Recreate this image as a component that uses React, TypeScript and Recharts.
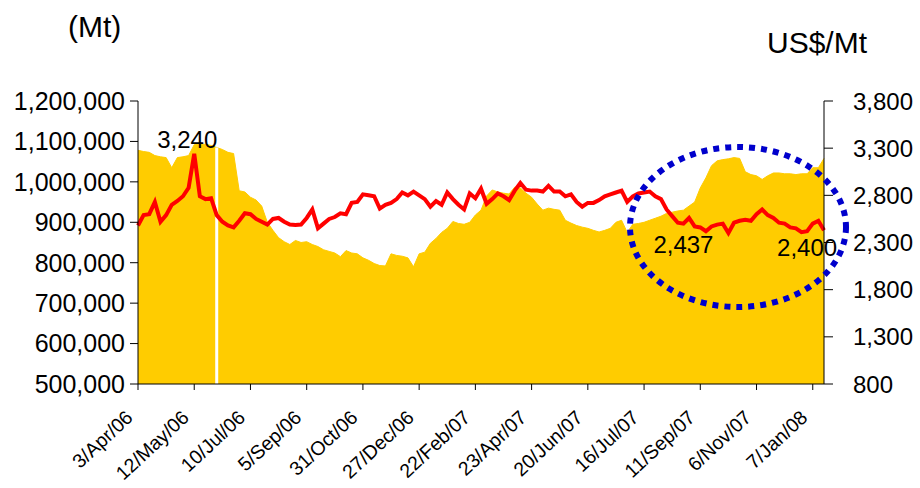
import React from 'react';
import { ComposedChart, Area, Line, XAxis, YAxis, ReferenceLine, ReferenceDot } from 'recharts';

// x tick labels, one every 10 samples
const tickLabels = ['3/Apr/06', '12/May/06', '10/Jul/06', '5/Sep/06', '31/Oct/06', '27/Dec/06', '22/Feb/07', '23/Apr/07', '20/Jun/07', '16/Jul/07', '11/Sep/07', '6/Nov/07', '7/Jan/08'];

// stock (Mt), left axis
const stock = [
  1078000, 1075000, 1073000, 1065000, 1062000, 1060000, 1035000, 1060000, 1062000, 1065000,
  1092000, 1093000, 1093000, 1090000, 1085000, 1080000, 1073000, 1070000, 978000, 975000,
  962000, 955000, 940000, 900000, 880000, 862000, 852000, 845000, 855000, 850000,
  852000, 845000, 840000, 832000, 828000, 824000, 815000, 830000, 824000, 822000,
  812000, 806000, 798000, 793000, 792000, 822000, 818000, 816000, 812000, 790000,
  822000, 826000, 848000, 860000, 875000, 885000, 902000, 897000, 895000, 900000,
  918000, 930000, 965000, 980000, 975000, 972000, 970000, 987000, 985000, 972000,
  962000, 945000, 930000, 935000, 932000, 930000, 905000, 898000, 892000, 888000,
  885000, 880000, 876000, 880000, 885000, 900000, 905000, 875000, 895000, 897000,
  900000, 905000, 910000, 915000, 922000, 925000, 928000, 930000, 940000, 950000,
  985000, 1010000, 1040000, 1052000, 1055000, 1057000, 1060000, 1058000, 1025000, 1018000,
  1015000, 1006000, 1015000, 1022000, 1022000, 1020000, 1020000, 1018000, 1020000, 1020000,
  1035000, 1035000, 1058000,
];

// price (US$/Mt), right axis
const price = [
  2480, 2590, 2600, 2730, 2520, 2590, 2700, 2740, 2790, 2880,
  3240, 2790, 2760, 2770, 2590, 2520, 2480, 2460, 2530, 2610,
  2600, 2550, 2520, 2490, 2550, 2560, 2520, 2490, 2485, 2490,
  2560, 2650, 2450, 2500, 2550, 2570, 2610, 2600, 2720, 2730,
  2810, 2800, 2790, 2660, 2700, 2720, 2760, 2830, 2800, 2840,
  2800, 2760, 2680, 2740, 2700, 2830, 2760, 2700, 2650, 2820,
  2770, 2870, 2710, 2760, 2820, 2790, 2750, 2850, 2930, 2860,
  2850, 2850, 2840, 2900, 2840, 2840, 2790, 2810, 2730, 2680,
  2720, 2720, 2750, 2790, 2810, 2830, 2850, 2730, 2790, 2820,
  2830, 2840, 2790, 2760, 2650, 2580, 2510, 2500, 2560, 2470,
  2460, 2420, 2470, 2490, 2500, 2400, 2510, 2530, 2540, 2530,
  2600, 2650, 2590, 2560, 2510, 2500, 2460, 2450, 2410, 2420,
  2500, 2530, 2430,
];

const leftTicks = [500000, 600000, 700000, 800000, 900000, 1000000, 1100000, 1200000];
const rightTicks = [800, 1300, 1800, 2300, 2800, 3300, 3800];
const xTicks = tickLabels.map((_, k) => k * 10);
const gapIdx = [14]; // missing stock reading

// callouts on the price line
const callouts = [
  { i: 10, v: 3240, pos: 'top', dx: -7 },
  { i: 97, v: 2437, pos: 'bottom', dx: 0 },
  { i: 119, v: 2400, pos: 'bottom', dx: 0 },
];

const data = stock.map((s, i) => ({ i, stock: s, price: price[i] }));

const font = '"Liberation Sans", Arial, sans-serif';
const fmt = (v: number) => v.toLocaleString('en-US');

function XTick(props: any) {
  const { x, y, payload } = props;
  const ax = x - 4;
  const ay = y + 27;
  return (
    <text x={ax} y={ay} transform={`rotate(-43, ${ax}, ${ay})`} textAnchor="end" fontSize={19.5} fill="#000" fontFamily={font}>
      {tickLabels[payload.value / 10]}
    </text>
  );
}

export default function App() {
  return (
    <div style={{ position: 'absolute', left: 0, top: 0, width: 920, height: 488, background: '#fff', fontFamily: font }}>
      <ComposedChart width={920} height={488} data={data} margin={{ top: 101, right: 6, left: 8, bottom: 0 }}>
        <XAxis
          dataKey="i"
          type="number"
          domain={[0, 122]}
          ticks={xTicks}
          interval={0}
          height={104}
          tickSize={6}
          tickMargin={2}
          axisLine={{ stroke: '#000' }}
          tickLine={{ stroke: '#000' }}
          tick={<XTick />}
        />
        <YAxis
          yAxisId="left"
          width={130}
          domain={[500000, 1200000]}
          ticks={leftTicks}
          tickFormatter={fmt}
          tickSize={8}
          tickMargin={5}
          axisLine={{ stroke: '#000' }}
          tickLine={{ stroke: '#000' }}
          tick={{ fill: '#000', fontSize: 25, fontFamily: font }}
        />
        <YAxis
          yAxisId="right"
          orientation="right"
          width={90}
          domain={[800, 3800]}
          ticks={rightTicks}
          tickFormatter={fmt}
          tickSize={9}
          tickMargin={20}
          axisLine={{ stroke: '#000' }}
          tickLine={{ stroke: '#000' }}
          tick={{ fill: '#000', fontSize: 24, fontFamily: font }}
        />
        <Area
          yAxisId="left"
          dataKey="stock"
          type="linear"
          fill="#FFCC00"
          fillOpacity={1}
          stroke="#FFCC00"
          strokeWidth={1}
          isAnimationActive={false}
        />
        {gapIdx.map((g) => (
          <ReferenceLine
            key={g}
            yAxisId="left"
            segment={[{ x: g, y: 500000 }, { x: g, y: stock[g] }]}
            stroke="#fff"
            strokeWidth={3}
          />
        ))}
        <Line
          yAxisId="right"
          dataKey="price"
          type="linear"
          stroke="#FF0000"
          strokeWidth={4}
          dot={false}
          isAnimationActive={false}
        />
        {callouts.map((c) => (
          <ReferenceDot
            key={c.i}
            yAxisId="right"
            x={c.i}
            y={c.v}
            r={0}
            fill="none"
            stroke="none"
            label={{ value: fmt(c.v), position: c.pos as any, offset: 6, dx: c.dx, fill: '#000', fontSize: 24, fontFamily: font }}
          />
        ))}
      </ComposedChart>
      <svg width={920} height={488} style={{ position: 'absolute', left: 0, top: 0, pointerEvents: 'none' }}>
        <text x={68} y={37} fontSize={30} fontFamily={font} fill="#000">(Mt)</text>
        <text x={767} y={53} fontSize={30} fontFamily={font} fill="#000">US$/Mt</text>
        <ellipse cx={738} cy={227} rx={108} ry={80} fill="none" stroke="#0000CC" strokeWidth={6} strokeDasharray="6 6" />
      </svg>
    </div>
  );
}
